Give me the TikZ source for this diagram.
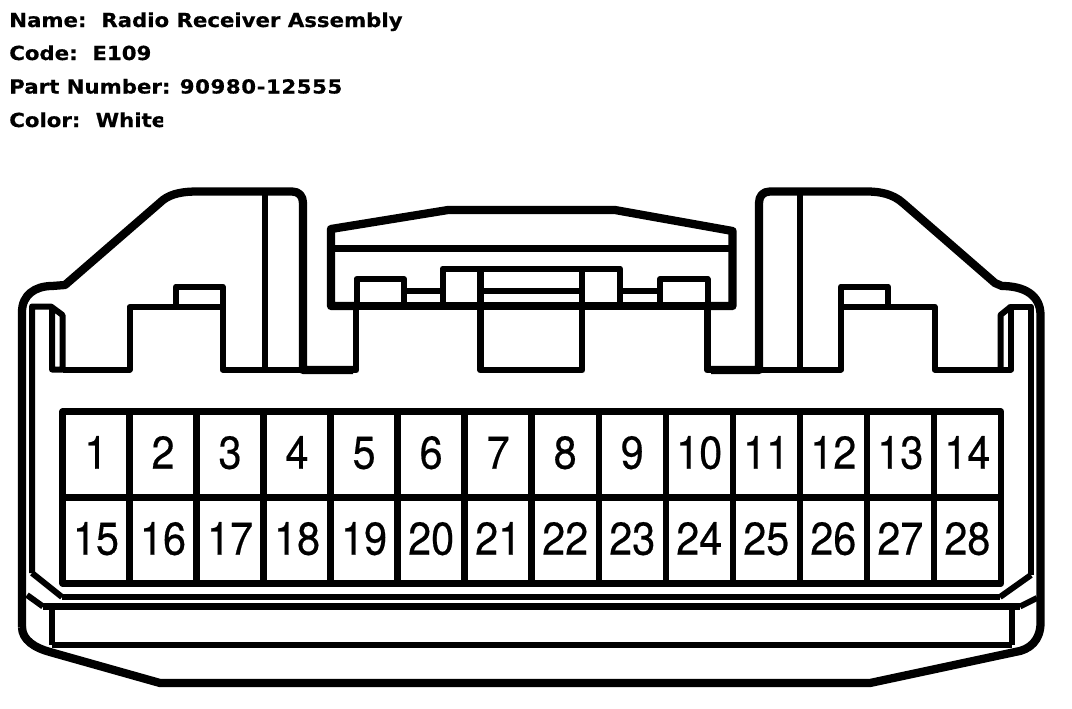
\documentclass[tikz,border=0pt]{standalone}
\usepackage{fontspec}
\newfontfamily\infofont[FakeStretch=1.1,FakeBold=0.6]{DejaVu Sans}
\newfontfamily\pinfont[FakeStretch=0.9,FakeBold=0.4]{TeX Gyre Heros}
\usepackage{tikz}
\usetikzlibrary{positioning}

\begin{document}
\begin{tikzpicture}[x=0.75pt, y=-0.75pt, auto, node distance=50.27pt, line join=round,
    pin node/.style={rectangle,draw,line width=4.8pt,inner sep=0pt,minimum width=50.27pt,minimum height=64.5pt,text height=24.75pt,text depth=3.5pt,font=\pinfont\fontsize{34.5}{34.5}\selectfont},
    info node/.style={anchor=base west,inner sep=0pt,font=\infofont\bfseries\fontsize{14.5}{16}\selectfont},
    thick wall/.style={line width=6.2pt},
    medium wall/.style={line width=5.2pt},
    thin wall/.style={line width=4.5pt}]
  \useasboundingbox (0,0) rectangle (1072,708);

  \node[info node] (name) at (9,27) {Name:\ \ Radio Receiver Assembly};
  \node[info node] (code) at (9,60) {Code:\ \ E109};
  \node[info node] (part) at (9,93.5) {Part Number:\hspace{7pt}{\addfontfeature{LetterSpace=3}90980-12555}};
  \begin{scope}
    \clip (0,100) rectangle (163,140);
    \node[info node] (color) at (9,127) {Color:\hspace{11.5pt}White};
  \end{scope}

  \draw[thick wall] (22,627) -- (22,312) .. controls (22,295) and (35,286) .. (52,286) -- (65,285) -- (163,200) .. controls (172,193) and (185,191.5) .. (197,191.5) -- (292,191.5) .. controls (299,191.5) and (303,196) .. (303,203) -- (303,370) -- (353,370);
  \draw[thick wall] (356,306) -- (331,306) -- (331,229) -- (448,210) -- (615,210) -- (732.5,231) -- (732.5,306) -- (707.5,306);
  \draw[medium wall] (331,248.5) -- (732.5,248.5);
  \draw[thick wall] (331,306) -- (732.5,306);
  \draw[medium wall] (353,370) -- (356,370) -- (356,306);
  \draw[medium wall] (707.5,306) -- (707.5,370) -- (711,370);
  \draw[thick wall] (711,370) -- (759,370) -- (759,203) .. controls (759,196) and (763,191.5) .. (770,191.5) -- (867,191.5) .. controls (880,191.5) and (893,194) .. (903,203) -- (995,283) -- (1002,286) .. controls (1024,286) and (1040.5,295) .. (1040.5,315) -- (1040.5,623) .. controls (1040.5,640) and (1030,650) .. (1015,652) -- (870,683) -- (160,683) -- (50,652) .. controls (35,648) and (22,640) .. (22,627);

  \draw[thin wall] (32,573) -- (32,306.5) -- (51,306.5) -- (62.5,315) -- (62.5,369.5) -- (52,369.5) -- (52,306.5);
  \draw[thin wall] (62.5,369.5) -- (129.5,369.5) -- (129.5,307) -- (222.5,307) -- (222.5,369.5) -- (303,369.5);
  \draw[thin wall] (176,307) -- (176,286.5) -- (222.5,286.5) -- (222.5,307);
  \draw[thin wall] (264.5,191.5) -- (264.5,369.5);

  \draw[thin wall] (356.5,306) -- (356.5,279) -- (404,279) -- (404,306);
  \draw[thin wall] (404,291) -- (442.5,291);
  \draw[thin wall] (442.5,306) -- (442.5,268.5) -- (620,268.5) -- (620,306);
  \draw[medium wall] (480.5,268.5) -- (480.5,370) -- (582,370) -- (582,268.5);
  \draw[thin wall] (480.5,291) -- (582,291);
  \draw[thin wall] (620,291) -- (660,291);
  \draw[thin wall] (660,306) -- (660,279) -- (707.5,279) -- (707.5,306);

  \draw[thin wall] (759,369.5) -- (841,369.5) -- (841,306.5) -- (934.5,306.5) -- (934.5,369.5) -- (1011,369.5) -- (1011,306.5) -- (1031,306.5) -- (1031,575);
  \draw[thin wall] (841,306.5) -- (841,286.5) -- (888,286.5) -- (888,306.5);
  \draw[thin wall] (1011,306.5) -- (1000.5,315) -- (1000.5,369.5);
  \draw[thin wall] (799.5,191.5) -- (799.5,369.5);

  \node[pin node] (1) at (96,454.5) {1};
  \node[pin node] (2) [right of=1] {2};
  \node[pin node] (3) [right of=2] {3};
  \node[pin node] (4) [right of=3] {4};
  \node[pin node] (5) [right of=4] {5};
  \node[pin node] (6) [right of=5] {6};
  \node[pin node] (7) [right of=6] {7};
  \node[pin node] (8) [right of=7] {8};
  \node[pin node] (9) [right of=8] {9};
  \node[pin node] (10) [right of=9] {10};
  \node[pin node] (11) [right of=10] {11};
  \node[pin node] (12) [right of=11] {12};
  \node[pin node] (13) [right of=12] {13};
  \node[pin node] (14) [right of=13] {14};
  \node[pin node] (15) [below of=1, node distance=64.5pt] {15};
  \node[pin node] (16) [right of=15] {16};
  \node[pin node] (17) [right of=16] {17};
  \node[pin node] (18) [right of=17] {18};
  \node[pin node] (19) [right of=18] {19};
  \node[pin node] (20) [right of=19] {20};
  \node[pin node] (21) [right of=20] {21};
  \node[pin node] (22) [right of=21] {22};
  \node[pin node] (23) [right of=22] {23};
  \node[pin node] (24) [right of=23] {24};
  \node[pin node] (25) [right of=24] {25};
  \node[pin node] (26) [right of=25] {26};
  \node[pin node] (27) [right of=26] {27};
  \node[pin node] (28) [right of=27] {28};

  \draw[thin wall] (32,573) -- (62,597);
  \draw[thin wall] (1031,575) -- (1000,597);
  \draw[medium wall] (62,597) -- (1000,597);
  \draw[thin wall] (27,595) -- (43,606.5);
  \draw[thin wall] (1020,606.5) -- (1037,598);
  \draw[medium wall] (43,606.5) -- (1020,606.5);
  \draw[thin wall] (52,606.5) -- (52,645);
  \draw[thin wall] (1012,606.5) -- (1012,645);
  \draw[medium wall] (52,645) -- (1012,645);
\end{tikzpicture}
\end{document}
